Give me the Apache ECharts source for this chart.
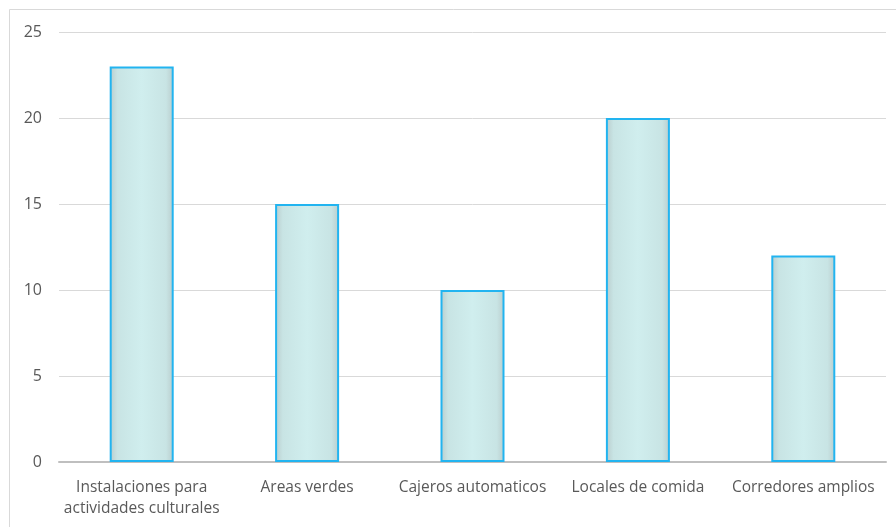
<!DOCTYPE html>
<html>
<head>
<meta charset="utf-8">
<script src="https://cdn.jsdelivr.net/npm/echarts@6/dist/echarts.min.js"></script>
<style>
  html, body { margin: 0; padding: 0; background: #fff; }
  #chart { width: 896px; height: 527px; }
</style>
</head>
<body>
<div id="chart"></div>
<script>
// Categories and counts
const categories = [
  'Instalaciones para\nactividades culturales',
  'Areas verdes',
  'Cajeros automaticos',
  'Locales de comida',
  'Corredores amplios'
];
const values = [23, 15, 10, 20, 12];
const yTicks = { min: 0, max: 25, interval: 5 };

const chart = echarts.init(document.getElementById('chart'));

// Bar fill: pale cyan with darker soft edges
const barFill = new echarts.graphic.LinearGradient(0, 0, 1, 0, [
  { offset: 0, color: '#b9cccc' },
  { offset: 0.12, color: '#c8e4e4' },
  { offset: 0.5, color: '#d0eeee' },
  { offset: 0.88, color: '#c8e4e4' },
  { offset: 1, color: '#b9cccc' }
]);

chart.setOption({
  animation: false,
  backgroundColor: '#ffffff',
  graphic: [{
    type: 'rect',
    shape: { x: 9.5, y: 9.5, width: 896, height: 527 },
    style: { fill: 'none', stroke: '#d9d9d9', lineWidth: 1 },
    silent: true
  }],
  grid: { left: 59, right: 10, top: 32, bottom: 65, containLabel: false },
  xAxis: {
    type: 'category',
    data: categories,
    axisTick: { show: false },
    axisLine: { lineStyle: { color: '#bfbfbf', width: 2 } },
    axisLabel: {
      color: '#595959',
      fontFamily: 'Open Sans',
      fontSize: 15.5,
      lineHeight: 21,
      margin: 15,
      interval: 0
    }
  },
  yAxis: {
    type: 'value',
    min: yTicks.min,
    max: yTicks.max,
    interval: yTicks.interval,
    axisLine: { show: false },
    axisTick: { show: false },
    splitLine: { lineStyle: { color: '#d9d9d9', width: 1 } },
    axisLabel: {
      color: '#595959',
      fontFamily: 'Open Sans',
      fontSize: 16,
      margin: 17
    }
  },
  series: [{
    type: 'bar',
    data: values,
    barWidth: 64,
    itemStyle: {
      color: barFill,
      borderColor: '#22b4f0',
      borderWidth: 2
    }
  }]
});
</script>
</body>
</html>
